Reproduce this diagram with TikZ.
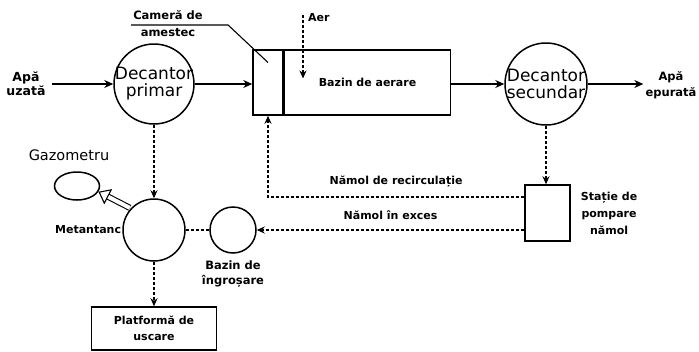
\documentclass[tikz,border=0pt]{standalone}
\usepackage{fontspec}
\setmainfont{DejaVu Sans}
\usetikzlibrary{arrows.meta, positioning, shapes.geometric}
\tikzset{
    tank/.style={draw, circle, line width=1.5pt, inner sep=0pt},
    basin/.style={draw, rectangle, line width=1.5pt, inner sep=0pt},
    tanktext/.style={font=\fontsize{17}{17}\selectfont, align=center, inner sep=0pt},
    labeltext/.style={font=\bfseries\fontsize{11}{14}\selectfont, align=center, inner sep=0pt},
    flowarrow/.style={-{Stealth[length=9pt, width=8pt]}, line width=1.4pt},
    sludgearrow/.style={-{Stealth[length=8pt, width=7pt]}, line width=1.3pt, dash pattern=on 3pt off 2pt},
    sludgeline/.style={line width=1.3pt, dash pattern=on 3pt off 2pt},
    gasarrow/.style={double, double distance=4pt, line width=1.1pt, -{Triangle[open, length=11pt, width=17pt]}},
}

\begin{document}
\begin{tikzpicture}[x=1pt, y=-1pt]
    \useasboundingbox[fill=white] (0,0) rectangle (699,351);

    % water line
    \node[labeltext, font=\bfseries\fontsize{12.5}{14}\selectfont] (apauzata) at (26,84) {Apă\\uzată};
    \node[tank, minimum size=80pt, label={[tanktext]center:Decantor\\primar}] (decprimar) at (154,84) {};
    \node[basin, minimum width=30pt, minimum height=65pt] (camera) at (268,82.5) {};
    \node[basin, minimum width=166pt, minimum height=65pt, anchor=west] (bazin) at (camera.east) {};
    \node[labeltext] at (bazin.center) {Bazin de aerare};
    \node[tank, minimum size=82pt, label={[tanktext]center:Decantor\\secundar}] (decsecundar) at (546,84) {};
    \node[labeltext, font=\bfseries\fontsize{11.5}{16}\selectfont] (apaepurata) at (671,85) {Apă\\epurată};

    \draw[flowarrow, shorten <=6pt] (apauzata.east |- decprimar) -- (decprimar.west);
    \draw[flowarrow] (decprimar.east) -- (decprimar.east -| camera.west);
    \draw[flowarrow] (bazin.east |- decsecundar) -- (decsecundar.west);
    \draw[flowarrow, shorten >=2pt] (decsecundar.east) -- (decsecundar.east -| apaepurata.west);

    % mixing chamber label and air
    \node[labeltext, font=\bfseries\fontsize{11.5}{17}\selectfont] (camlabel) at (168,23.5) {Cameră de\\amestec};
    \draw[line width=1.1pt] (camlabel.west) ++(-2,1.5) -- ++(97,0) -- ([yshift=20pt]camera.center);
    \coordinate (aertop) at (303,15);
    \node[labeltext, anchor=west] (aer) at (308,18) {Aer};
    \draw[sludgearrow, shorten >=4pt] (aertop) -- (aertop |- bazin.center);

    % sludge pumping station
    \node[basin, minimum width=45pt, minimum height=56pt] (statie) at (547.5,213) {};
    \node[labeltext, font=\bfseries\fontsize{11}{17}\selectfont, right=10pt of statie] (statielabel) {Stație de\\pompare\\nămol};
    \draw[sludgearrow] (decsecundar.south) -- (decsecundar.south |- statie.north);

    % digester side
    \node[tank, minimum size=62pt] (metantanc) at (154,230) {};
    \node[labeltext, left=1pt of metantanc] (metlabel) {Metantanc};
    \node[tank, minimum size=46pt] (ingrosare) at (233,230) {};
    \node[labeltext, font=\bfseries\fontsize{11.5}{15}\selectfont, below=7pt of ingrosare] (ingrlabel) {Bazin de\\îngroșare};
    \node[draw, ellipse, line width=1.5pt, minimum width=45pt, minimum height=28pt] (gazometru) at (77,186) {};
    \node[labeltext, font=\fontsize{14.5}{15}\selectfont] (gazlabel) at (69,155) {Gazometru};
    \node[basin, minimum width=125pt, minimum height=43pt] (platforma) at (154,328.5) {};
    \node[labeltext, font=\bfseries\fontsize{11}{16}\selectfont] at (platforma.center) {Platformă de\\uscare};

    \draw[sludgearrow] ([yshift=16pt]statie.west) -- node[labeltext, above=9pt] {Nămol de recirculație} (camera.south |- 0,197) -- (camera.south);
    \draw[sludgearrow] (statie.west |- ingrosare) -- node[labeltext, above=10pt] {Nămol în exces} (ingrosare.east);
    \draw[sludgeline] (metantanc.east) -- (ingrosare.west);
    \draw[sludgearrow] (decprimar.south) -- (metantanc.north);
    \draw[sludgearrow] (metantanc.south) -- (platforma.north);
    \draw[gasarrow, shorten <=1pt] (metantanc.137) -- (gazometru.-15);
\end{tikzpicture}
\end{document}
